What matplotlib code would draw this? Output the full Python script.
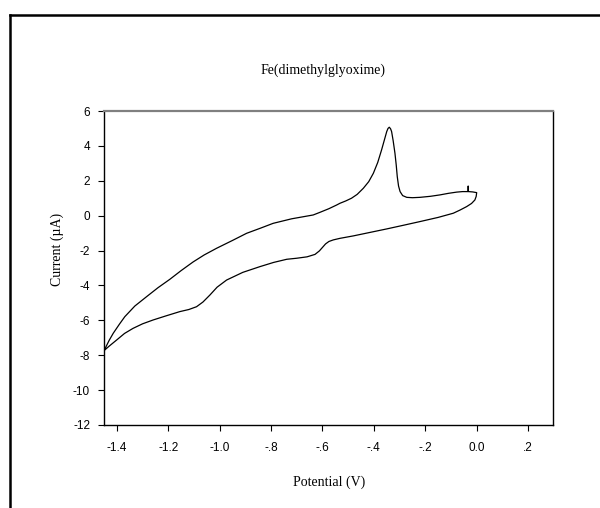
import matplotlib
matplotlib.use("Agg")
import matplotlib.pyplot as plt
from matplotlib.lines import Line2D

# Forward (anodic) sweep: -1.45 V -> 0.0 V
fwd_x = [-1.450, -1.430, -1.414, -1.390, -1.369, -1.330, -1.284, -1.240, -1.194,
         -1.150, -1.120, -1.103, -1.060, -1.012, -0.950, -0.895, -0.840, -0.792,
         -0.720, -0.636, -0.610, -0.575, -0.545, -0.532, -0.510, -0.487, -0.465,
         -0.441, -0.420, -0.402, -0.385, -0.370, -0.358, -0.350, -0.345, -0.340,
         -0.335, -0.331, -0.325, -0.318, -0.313, -0.309, -0.304, -0.298, -0.288,
         -0.272, -0.250, -0.221, -0.180, -0.143, -0.110, -0.078, -0.055, -0.034,
         -0.033, -0.032, -0.015, 0.000]
fwd_y = [-7.74, -7.15, -6.74, -6.22, -5.79, -5.18, -4.64, -4.13, -3.65,
         -3.15, -2.83, -2.65, -2.25, -1.87, -1.42, -1.01, -0.71, -0.44,
         -0.18, 0.04, 0.19, 0.40, 0.61, 0.71, 0.84, 1.00, 1.22,
         1.57, 1.95, 2.43, 3.05, 3.77, 4.40, 4.82, 5.00, 5.07,
         4.98, 4.82, 4.30, 3.58, 2.90, 2.24, 1.70, 1.38, 1.15,
         1.05, 1.03, 1.05, 1.11, 1.19, 1.28, 1.35, 1.38, 1.38,
         1.70, 1.38, 1.36, 1.32]

# Reverse (cathodic) sweep: 0.0 V -> -1.45 V
rev_x = [-0.002, -0.007, -0.020, -0.039, -0.065, -0.091, -0.150, -0.221, -0.285,
         -0.350, -0.415, -0.480, -0.532, -0.558, -0.575, -0.588, -0.600, -0.612,
         -0.629, -0.660, -0.700, -0.739, -0.790, -0.843, -0.910, -0.973, -1.010,
         -1.038, -1.065, -1.090, -1.120, -1.155, -1.210, -1.259, -1.300, -1.337,
         -1.370, -1.401, -1.430, -1.450]
rev_y = [1.10, 0.90, 0.70, 0.52, 0.32, 0.14, -0.10, -0.34, -0.55,
         -0.76, -0.96, -1.16, -1.30, -1.39, -1.48, -1.62, -1.82, -2.02,
         -2.22, -2.36, -2.44, -2.50, -2.68, -2.92, -3.25, -3.69, -4.10,
         -4.55, -4.95, -5.22, -5.38, -5.50, -5.75, -5.98, -6.20, -6.46,
         -6.75, -7.13, -7.48, -7.74]

x_ticks = [-1.4, -1.2, -1.0, -0.8, -0.6, -0.4, -0.2, 0.0, 0.2]
x_tick_labels = ["-1.4", "-1.2", "-1.0", "-.8", "-.6", "-.4", "-.2", "0.0", ".2"]
y_ticks = [6, 4, 2, 0, -2, -4, -6, -8, -10, -12]
y_tick_labels = ["6", "4", "2", "0", "-2", "-4", "-6", "-8", "-10", "-12"]

fig = plt.figure(figsize=(6.0, 5.08), dpi=100)
W, H = 600, 508
ax = fig.add_axes([104 / W, 1 - 425 / H, (552.5 - 104) / W, (425 - 111) / H])

ax.plot(fwd_x + rev_x, fwd_y + rev_y, color="black", lw=0.9,
        solid_joinstyle="round", solid_capstyle="round")

ax.set_xlim(-1.45, 0.295)
ax.set_ylim(-12, 6)
ax.set_xticks(x_ticks)
ax.set_xticklabels(x_tick_labels, fontfamily="Liberation Sans", fontsize=8.5)
ax.set_yticks(y_ticks)
ax.set_yticklabels(y_tick_labels, fontfamily="Liberation Sans", fontsize=8.5)
ax.tick_params(direction="out", length=4, width=0.8, top=False, right=False)
ax.tick_params(axis="x", pad=8)
ax.tick_params(axis="y", pad=6)

for s in ["left", "bottom", "right"]:
    ax.spines[s].set_color("black")
    ax.spines[s].set_linewidth(1.0)
ax.spines["top"].set_color("#808080")
ax.spines["top"].set_linewidth(1.6)

fig.text(323 / W, 1 - 70 / H, "Fe(dimethylglyoxime)", ha="center", va="center",
         fontfamily="Liberation Serif", fontsize=10)
fig.text(329 / W, 1 - 482 / H, "Potential (V)", ha="center", va="center",
         fontfamily="Liberation Serif", fontsize=10)
fig.text(57 / W, 1 - 249 / H, "Current (\u00b5A)", ha="center", va="center",
         rotation=90, fontfamily="Liberation Serif", fontsize=10)

# outer frame (left and top edges)
fig.add_artist(Line2D([10 / W, 10 / W], [0, 1 - 15 / H], transform=fig.transFigure,
                      color="black", lw=1.8))
fig.add_artist(Line2D([10 / W, 1.0], [1 - 15 / H, 1 - 15 / H], transform=fig.transFigure,
                      color="black", lw=1.8))

fig.savefig("out.png", dpi=100)
